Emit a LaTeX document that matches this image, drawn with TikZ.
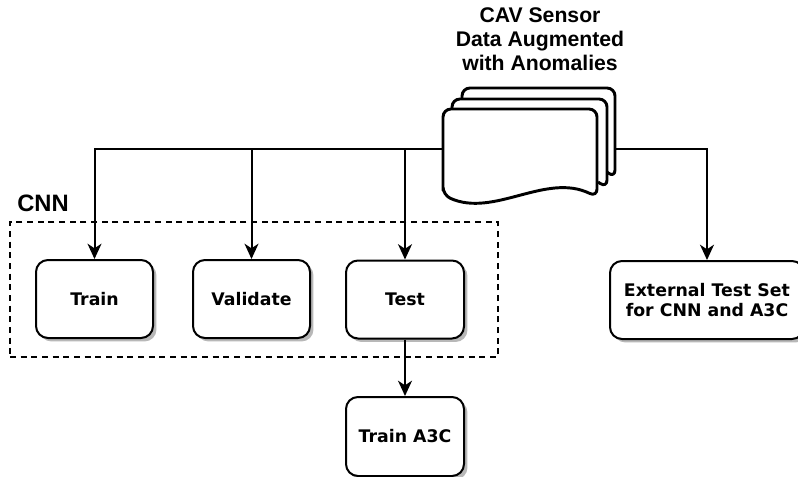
\documentclass[tikz,border=0pt]{standalone}
\usepackage{fontspec}
\setmainfont{DejaVu Sans}
\newfontfamily\hfont{Liberation Sans}
\usetikzlibrary{arrows.meta,shadows}
\begin{document}
\begin{tikzpicture}[x=0.75pt,y=-0.75pt,
  proc/.style={draw, line width=1.5pt, rounded corners=9pt, fill=white,
    minimum width=87.75pt, minimum height=58.5pt, inner sep=0pt, align=center,
    font=\bfseries\fontsize{13}{14.8}\selectfont,
    drop shadow={shadow xshift=2.6pt, shadow yshift=-2.6pt, fill=black!28, opacity=1}},
  conn/.style={line width=1.5pt, -{Stealth[length=11.5pt,width=10.5pt,inset=3.5pt]}},
  group/.style={draw, line width=1.3pt, dash pattern=on 4.5pt off 3.5pt,
    minimum width=366pt, minimum height=101.25pt, inner sep=0pt},
  hlabel/.style={font=\hfont\bfseries\fontsize{15.9}{18}\selectfont, align=center, inner sep=0pt},
  page/.style={line width=2.2pt, rounded corners=6pt, line join=round}
]
\useasboundingbox (0,0) rectangle (798,477);
\clip (0,0) rectangle (798,477);
\fill[white] (0,0) rectangle (798,477);

% group box
\node[group] (cnnbox) at (254,289.5) {};
\node[hlabel, font=\hfont\bfseries\fontsize{17.8}{20}\selectfont] (cnnlabel) at (43,203) {CNN};

% data header
\node[hlabel] (datalabel) at (540,39.4) {CAV Sensor\\Data Augmented\\with Anomalies};

% multi-document shape
\draw[page] (462,99) -- (462,88) -- (615,88) -- (615,178) -- (607,172);
\draw[page] (452,109) -- (452,99) -- (607,99) -- (607,188) -- (598,182);
\draw[page, fill=white] (443,195) -- (443,109) -- (597,109) -- (597,197)
   .. controls (546,172) and (494,218) .. (443,195) -- cycle;
\coordinate (docL) at (443,149);
\coordinate (docR) at (615.5,149);

% process boxes
\node[proc] (train) at (94.5,299) {Train};
\node[proc] (validate) at (251.5,299) {Validate};
\node[proc, minimum width=88.5pt] (test) at (405,299.5) {Test};
\node[proc, minimum width=88.5pt, minimum height=59.25pt] (a3c) at (405,436.5) {Train A3C};
\node[proc, minimum width=145.5pt] (ext) at (707,300) {External Test Set\\for CNN and A3C};

% connectors
\draw[conn] (docL) -| (train.north);
\draw[conn] (docL) -| (validate.north);
\draw[conn] (docL) -| (test.north);
\draw[conn] (docR) -| (ext.north);
\draw[conn] (test.south) -- (a3c.north);
\end{tikzpicture}
\end{document}
